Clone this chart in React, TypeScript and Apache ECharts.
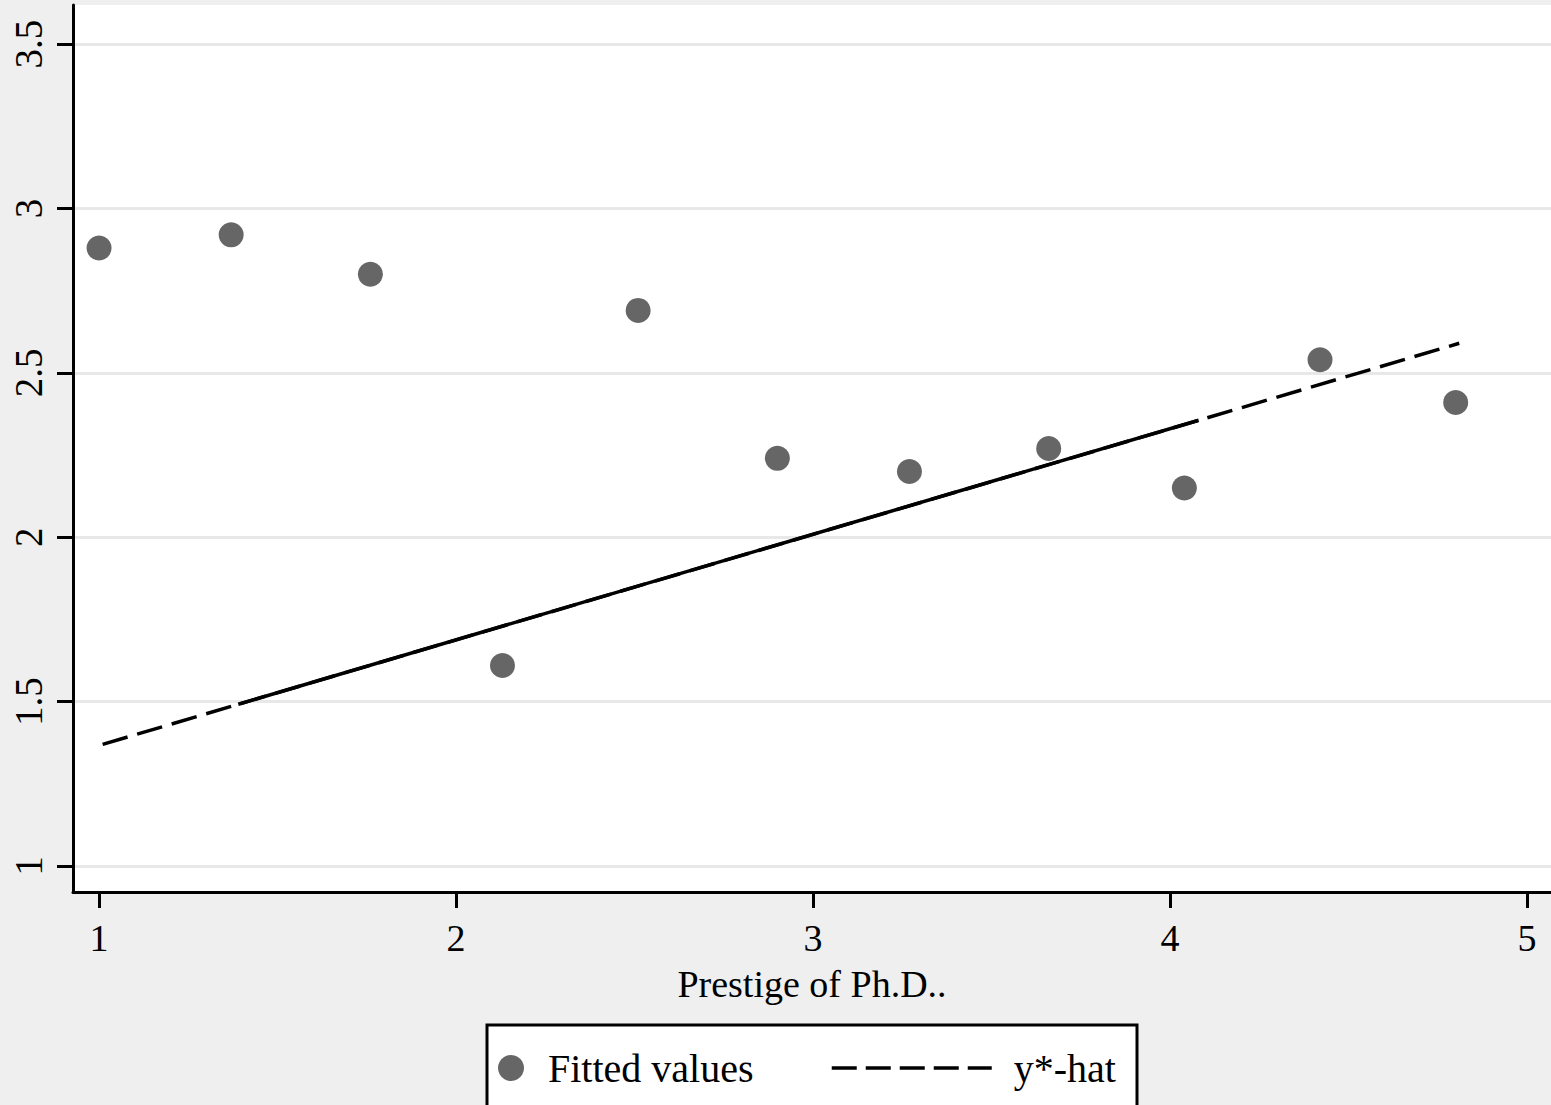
import React, { useEffect, useRef } from "react";
import * as echarts from "echarts";

// Tick positions on each axis
const X_TICKS = [1, 2, 3, 4, 5];
const Y_TICKS = [1, 1.5, 2, 2.5, 3, 3.5];

// Scatter: prestige of Ph.D. vs fitted values
const prestige = [1.0, 1.37, 1.76, 2.13, 2.51, 2.9, 3.27, 3.66, 4.04, 4.42, 4.8];
const fittedValues = [2.88, 2.92, 2.8, 1.61, 2.69, 2.24, 2.2, 2.27, 2.15, 2.54, 2.41];

// y*-hat regression line (endpoints), and the stretch where the dashes overlap into a solid stroke
const yHatX = [1.01, 4.81];
const yHatY = [1.37, 2.59];
const overlapX = [1.39, 4.08];
const overlapY = [1.492, 2.356];

const SERIF = "'Liberation Serif', 'Times New Roman', serif";

export default function App() {
  const ref = useRef<HTMLDivElement>(null);

  useEffect(() => {
    if (!ref.current) return;
    const chart = echarts.init(ref.current, undefined, { renderer: "svg" });

    const pair = (xs: number[], ys: number[]) => xs.map((x, i) => [x, ys[i]]);

    chart.setOption({
      animation: false,
      backgroundColor: "#efefef",
      grid: {
        left: 73,
        right: 0,
        top: 5,
        bottom: 213,
        show: true,
        backgroundColor: "#ffffff",
        borderWidth: 0,
        containLabel: false,
      },
      xAxis: {
        type: "value",
        min: 0.927,
        max: 5.067,
        axisLine: { show: true, onZero: false, lineStyle: { color: "#000", width: 3 } },
        axisTick: { show: true, length: 16, customValues: X_TICKS, lineStyle: { color: "#000", width: 3 } },
        axisLabel: {
          customValues: X_TICKS,
          fontSize: 38,
          fontFamily: SERIF,
          color: "#000",
          margin: 27,
        },
        splitLine: { show: false },
        name: "Prestige of Ph.D..",
        nameLocation: "middle",
        nameGap: 73,
        nameTextStyle: { fontSize: 38, fontFamily: SERIF, color: "#000" },
      },
      yAxis: {
        type: "value",
        min: 0.921,
        max: 3.619,
        axisLine: { show: true, onZero: false, lineStyle: { color: "#000", width: 3 } },
        axisTick: { show: true, length: 16, customValues: Y_TICKS, lineStyle: { color: "#000", width: 3 } },
        axisLabel: {
          customValues: Y_TICKS,
          rotate: 90,
          fontSize: 39,
          fontFamily: SERIF,
          color: "#000",
          margin: 25,
        },
        splitLine: { show: true, lineStyle: { color: "#e8e8e8", width: 3 } },
      },
      legend: [
        {
          data: ["Fitted values"],
          left: 498,
          top: 1048,
          padding: 0,
          itemWidth: 26,
          itemHeight: 26,
          selectedMode: false,
          textStyle: { fontSize: 40, fontFamily: SERIF, color: "#000", padding: [0, 0, 0, 19] },
        },
        {
          data: ["y*-hat"],
          left: 830,
          top: 1048,
          padding: 0,
          itemWidth: 160,
          itemHeight: 26,
          selectedMode: false,
          // plain dashed key: hide the marker that line series put on their legend icon
          itemStyle: { color: "rgba(0,0,0,0)", opacity: 0, borderWidth: 0 },
          lineStyle: { color: "#000", width: 3.5, type: [25, 9] },
          textStyle: { fontSize: 40, fontFamily: SERIF, color: "#000", padding: [0, 0, 0, 17] },
        },
      ],
      graphic: [
        {
          type: "rect",
          z: 1,
          shape: { x: 487, y: 1025, width: 650, height: 100 },
          style: { fill: "#ffffff", stroke: "#000", lineWidth: 3 },
        },
      ],
      series: [
        {
          name: "y*-hat",
          type: "line",
          data: pair(yHatX, yHatY),
          symbol: "none",
          lineStyle: { color: "#000", width: 3.5, type: [26, 10] },
          itemStyle: { color: "#000" },
          z: 3,
        },
        {
          name: "y*-hat",
          type: "line",
          data: pair(overlapX, overlapY),
          symbol: "none",
          lineStyle: { color: "#000", width: 3.5, type: "solid" },
          itemStyle: { color: "#000" },
          z: 3,
        },
        {
          name: "Fitted values",
          type: "scatter",
          data: pair(prestige, fittedValues),
          symbol: "circle",
          symbolSize: 25,
          itemStyle: { color: "#666666", opacity: 1 },
          z: 4,
        },
      ],
    });

    return () => chart.dispose();
  }, []);

  return (
    <div
      ref={ref}
      style={{ position: "fixed", left: 0, top: 0, width: 1551, height: 1105 }}
    />
  );
}
